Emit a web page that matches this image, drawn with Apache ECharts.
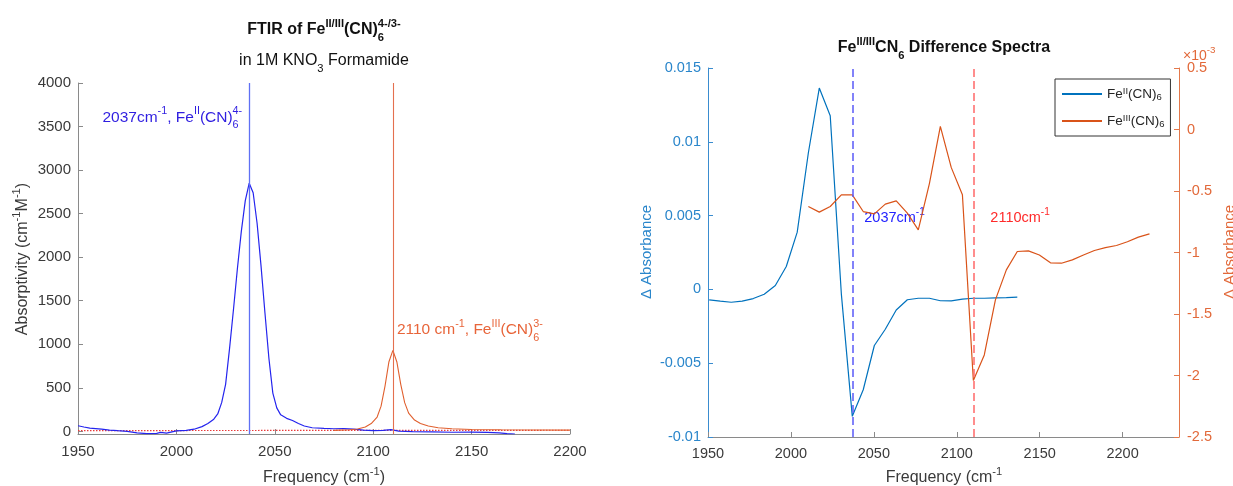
<!DOCTYPE html>
<html><head><meta charset="utf-8">
<script src="https://cdn.jsdelivr.net/npm/echarts@6/dist/echarts.min.js"></script>
<style>html,body{margin:0;padding:0;background:#fff;}#c{width:1233px;height:486px;}</style>
</head><body><div id="c"></div>
<script>
// ---------------- DATA ----------------
// Left panel: FTIR absorptivity spectra
const ftirFreqII = [1950,1953,1956,1962,1966,1970,1975,1980,1985,1990,1992,1995,2000,2005,2009,2013,2016,2019,2021,2023,2025,2027,2029,2031,2033,2035,2037,2039,2041,2043,2045,2047,2049,2051,2053,2056,2059,2062,2065,2069,2075,2080,2085,2090,2095,2100,2105,2109,2113,2120,2130,2140,2150,2158,2164,2168,2172];
const ftirAbsII  = [65,50,38,25,15,8,0,-18,-26,-22,-12,-20,5,12,25,55,90,140,200,330,540,950,1400,1870,2300,2650,2850,2740,2390,1900,1360,840,440,270,190,150,125,90,62,42,35,30,32,25,15,8,12,20,2,-2,-6,-10,-8,-12,-18,-26,-30];
const ftirFreqIII = [2080,2088,2092,2096,2099,2102,2104,2106,2108,2110,2112,2114,2116,2118,2121,2124,2128,2133,2140,2150,2165,2180,2200];
const ftirAbsIII  = [12,18,28,50,90,165,290,520,800,930,800,540,330,210,130,90,62,42,30,22,18,16,15];
const baselineFreq = [1950, 2200];
const baselineVal  = [9, 13];
const peakPositions = [2037, 2110];
const leftXTicks = [1950, 2000, 2050, 2100, 2150, 2200];
const leftYTicks = [0, 500, 1000, 1500, 2000, 2500, 3000, 3500, 4000];

// Right panel: difference spectra
const diffFreqII = [1950.7,1957.4,1964.0,1970.6,1977.3,1983.9,1990.6,1997.2,2003.8,2010.5,2017.1,2023.7,2030.4,2037.0,2043.6,2050.3,2056.9,2063.5,2070.2,2076.8,2083.5,2090.1,2096.7,2103.4,2110.0,2116.6,2123.3,2129.9,2136.5];
const diffII = [-0.00071,-0.00080,-0.00087,-0.00080,-0.00062,-0.00033,0.00026,0.00155,0.00388,0.00924,0.01364,0.01177,-0.0003,-0.0086,-0.0068,-0.0038,-0.0027,-0.0014,-0.0007,-0.0006,-0.0006,-0.00077,-0.00078,-0.00066,-0.0006,-0.0006,-0.00058,-0.00056,-0.00052];
const diffFreqIII = [2010.5,2017.1,2023.7,2030.4,2037.0,2043.6,2050.3,2056.9,2063.5,2070.2,2076.8,2083.5,2090.1,2096.7,2103.4,2110.0,2116.6,2123.3,2129.9,2136.5,2143.2,2149.8,2156.5,2163.1,2169.7,2176.4,2183.0,2189.6,2196.3,2202.9,2209.5,2216.2];
const diffIII = [-0.626,-0.672,-0.626,-0.531,-0.531,-0.667,-0.686,-0.607,-0.58,-0.68,-0.816,-0.44,0.025,-0.31,-0.53,-2.04,-1.833,-1.385,-1.141,-0.992,-0.987,-1.02,-1.084,-1.087,-1.06,-1.02,-0.984,-0.96,-0.943,-0.913,-0.875,-0.848]; // x 1e-3
const rightXTicks = [1950, 2000, 2050, 2100, 2150, 2200];
const rightXMax = 2234;

// annotation anchor values (data coords)
const leftAnnotY = [3607, 1165];
const rightAnnotY = 0.00485;

// ---------------- STYLE ----------------
const FONT = '"Liberation Sans", Arial, Helvetica, sans-serif';
const AX = '#8a8a8a', TXT = '#3a3a3a';
const BLUE_L = '#2424ee', ORANGE_L = '#e0602f';
const BLUE_R = '#0072BD', ORANGE_R = '#D95319';
const BLUE_AX = '#3a8ccf', ORANGE_AX = '#e3784b';

const zip = (xs, ys) => xs.map((x, i) => [x, ys[i]]);
const plain = v => String(+v.toFixed(6));

const chart = echarts.init(document.getElementById('c'), null, {renderer: 'canvas'});

const axisCommon = {
  type: 'value', splitLine: {show: false},
  axisLine: {show: true, onZero: false, lineStyle: {color: AX, width: 1}},
  axisTick: {show: true, inside: true, length: 5, lineStyle: {color: AX}},
  axisLabel: {color: TXT, fontSize: 15, fontFamily: FONT}
};
function ax(extra) {
  const a = echarts.util.merge(echarts.util.clone(axisCommon), extra, true);
  a.axisLabel.formatter = plain;
  return a;
}

const option = {
  animation: false,
  backgroundColor: '#fff',
  grid: [
    {left: 78, top: 83, width: 492, height: 351},
    {left: 708, top: 68, width: 471, height: 369}
  ],
  xAxis: [
    ax({gridIndex: 0, min: 1950, max: 2200, interval: 50,
        axisTick: {customValues: leftXTicks}, axisLabel: {customValues: leftXTicks, margin: 10}}),
    ax({gridIndex: 1, min: 1950, max: rightXMax, interval: 50,
        axisTick: {customValues: rightXTicks}, axisLabel: {customValues: rightXTicks, margin: 9, fontSize: 14.5}})
  ],
  yAxis: [
    ax({gridIndex: 0, min: -30, max: 4000, interval: 500,
        axisTick: {customValues: leftYTicks}, axisLabel: {customValues: leftYTicks, margin: 7}}),
    ax({gridIndex: 1, position: 'left', min: -0.01, max: 0.015, interval: 0.005,
        axisLine: {lineStyle: {color: BLUE_AX}}, axisTick: {lineStyle: {color: BLUE_AX}},
        axisLabel: {color: '#2a86cb', margin: 7, fontSize: 14.5}}),
    ax({gridIndex: 1, position: 'right', min: -2.5, max: 0.5, interval: 0.5,
        axisLine: {lineStyle: {color: ORANGE_AX}}, axisTick: {lineStyle: {color: ORANGE_AX}},
        axisLabel: {color: '#e2693a', margin: 8, fontSize: 14.5}})
  ],
  legend: {
    data: ['FeII', 'FeIII'], orient: 'vertical', left: 1055, top: 79,
    padding: [7, 6, 7, 6], itemWidth: 40, itemHeight: 14, itemGap: 11,
    borderColor: '#333', borderWidth: 1, backgroundColor: '#fff', selectedMode: false,
    itemStyle: {opacity: 0},
    formatter: n => n === 'FeII' ? '{n|Fe}{sup|II}{n|(CN)}{sub|6}' : '{n|Fe}{sup|III}{n|(CN)}{sub|6}',
    textStyle: {color: '#262626', fontFamily: FONT, rich: {
      n: {fontSize: 13.5, lineHeight: 16, fontFamily: FONT, color: '#262626'},
      sup: {fontSize: 9.5, lineHeight: 9, verticalAlign: 'top', fontFamily: FONT, color: '#262626'},
      sub: {fontSize: 9.5, lineHeight: 9, verticalAlign: 'bottom', fontFamily: FONT, color: '#262626'}
    }}
  },
  series: [
    {name: 'baseline', type: 'line', xAxisIndex: 0, yAxisIndex: 0, data: zip(baselineFreq, baselineVal),
     symbol: 'none', silent: true, lineStyle: {color: '#e83a3a', width: 1.2, type: [1.5, 1.5]}},
    {name: 'ftirII', type: 'line', xAxisIndex: 0, yAxisIndex: 0, data: zip(ftirFreqII, ftirAbsII),
     symbol: 'none', silent: true, lineStyle: {color: BLUE_L, width: 1.2}, z: 3,
     markLine: {silent: true, symbol: ['none', 'none'], label: {show: false},
       lineStyle: {color: '#5f70f4', width: 1.3, type: 'solid'}, data: [{xAxis: peakPositions[0]}]}},
    {name: 'ftirIII', type: 'line', xAxisIndex: 0, yAxisIndex: 0, data: zip(ftirFreqIII, ftirAbsIII),
     symbol: 'none', silent: true, lineStyle: {color: ORANGE_L, width: 1.1}, z: 3,
     markLine: {silent: true, symbol: ['none', 'none'], label: {show: false},
       lineStyle: {color: '#e4704f', width: 1.1, type: 'solid'}, data: [{xAxis: peakPositions[1]}]}},
    {name: 'FeII', type: 'line', xAxisIndex: 1, yAxisIndex: 1, data: zip(diffFreqII, diffII),
     symbol: 'none', silent: true, lineStyle: {color: BLUE_R, width: 1.2}, itemStyle: {color: BLUE_R},
     markLine: {silent: true, symbol: ['none', 'none'], label: {show: false},
       lineStyle: {color: '#5a5af8', width: 1.5, type: [8, 4]}, data: [{xAxis: peakPositions[0]}]}},
    {name: 'FeIII', type: 'line', xAxisIndex: 1, yAxisIndex: 2, data: zip(diffFreqIII, diffIII),
     symbol: 'none', silent: true, lineStyle: {color: ORANGE_R, width: 1.2}, itemStyle: {color: ORANGE_R},
     markLine: {silent: true, symbol: ['none', 'none'], label: {show: false},
       lineStyle: {color: '#ff6868', width: 1.5, type: [8, 4]}, data: [{xAxis: peakPositions[1]}]}}
  ]
};
chart.setOption(option);

// ---------------- rich text helper (sup / sub / stacked) ----------------
const mctx = document.createElement('canvas').getContext('2d');
function fontStr(size, bold) { return (bold ? 'bold ' : '') + size + 'px ' + FONT; }
function measure(t, size, bold) { mctx.font = fontStr(size, bold); return mctx.measureText(t).width; }
function richText(pieces, o) {
  const base = o.size, small = +(base * 0.7).toFixed(1);
  let cursor = 0, stackStart = 0, stackW = 0;
  const items = [];
  pieces.forEach(([t, k]) => {
    const sz = k === 'n' ? base : small;
    const w = measure(t, sz, o.bold);
    const dy = (k === 'sup' || k === 'supS') ? -base * 0.4 : (k === 'sub' || k === 'subS') ? base * 0.5 : 0;
    let px;
    if (k === 'subS') { px = stackStart; cursor = stackStart + Math.max(stackW, w); }
    else { px = cursor; cursor += w; if (k === 'supS') { stackStart = px; stackW = w; } }
    items.push({t, sz, px, dy});
  });
  const off = o.align === 'center' ? -cursor / 2 : o.align === 'right' ? -cursor : 0;
  return {
    type: 'group', x: o.x, y: o.y, rotation: o.rotation || 0, silent: true,
    children: items.map(c => ({
      type: 'text', x: c.px + off, y: c.dy, silent: true,
      style: {text: c.t, font: fontStr(c.sz, o.bold), fill: o.color,
              textAlign: 'left', align: 'left', textVerticalAlign: 'middle', verticalAlign: 'middle'}
    }))
  };
}

const p = (grid, pt) => chart.convertToPixel(grid, pt);
const L = {xAxisIndex: 0, yAxisIndex: 0}, R = {xAxisIndex: 1, yAxisIndex: 1};
const aB = p(L, [peakPositions[0], leftAnnotY[0]]);
const aO = p(L, [peakPositions[1], leftAnnotY[1]]);
const rB = p(R, [peakPositions[0], rightAnnotY]);
const rO = p(R, [peakPositions[1], rightAnnotY]);

const graphics = [
  richText([['FTIR of Fe','n'],['II/III','sup'],['(CN)','n'],['4-/3-','supS'],['6','subS']],
           {x: 324, y: 30, align: 'center', size: 16, bold: true, color: '#111'}),
  richText([['in 1M KNO','n'],['3','sub'],[' Formamide','n']],
           {x: 324, y: 61, align: 'center', size: 16, color: '#111'}),
  richText([['Fe','n'],['II/III','sup'],['CN','n'],['6','sub'],[' Difference Spectra','n']],
           {x: 944, y: 48, align: 'center', size: 16, bold: true, color: '#111'}),
  richText([['Frequency (cm','n'],['-1','sup'],[')','n']],
           {x: 324, y: 478, align: 'center', size: 16, color: TXT}),
  richText([['Frequency (cm','n'],['-1','sup']],
           {x: 944, y: 478, align: 'center', size: 16, color: TXT}),
  richText([['Absorptivity (cm','n'],['-1','sup'],['M','n'],['-1','sup'],[')','n']],
           {x: 23, y: 259, align: 'center', size: 16, color: TXT, rotation: Math.PI / 2}),
  richText([['\u0394 Absorbance','n']],
           {x: 647, y: 252, align: 'center', size: 15, color: '#2a86cb', rotation: Math.PI / 2}),
  richText([['\u0394 Absorbance','n']],
           {x: 1230, y: 252, align: 'center', size: 15, color: '#e2693a', rotation: Math.PI / 2}),
  richText([['\u00d710','n'],['-3','sup']],
           {x: 1183, y: 56, align: 'left', size: 14, color: '#e2693a'}),
  richText([['2037cm','n'],['-1','sup'],[', Fe','n'],['II','sup'],['(CN)','n'],['4-','supS'],['6','subS']],
           {x: aB[0] - 7, y: aB[1], align: 'right', size: 15.5, color: '#2f1ee0'}),
  richText([['2110 cm','n'],['-1','sup'],[', Fe','n'],['III','sup'],['(CN)','n'],['3-','supS'],['6','subS']],
           {x: aO[0] + 4, y: aO[1], align: 'left', size: 15.5, color: '#e8653a'}),
  richText([['2037cm','n'],['-1','sup']],
           {x: rB[0] + 12, y: rB[1], align: 'left', size: 14.5, color: '#2222ff'}),
  richText([['2110cm','n'],['-1','sup']],
           {x: rO[0] + 17, y: rO[1], align: 'left', size: 14.5, color: '#ff2a2a'})
];
chart.setOption({graphic: {elements: graphics}});
</script>
</body></html>
